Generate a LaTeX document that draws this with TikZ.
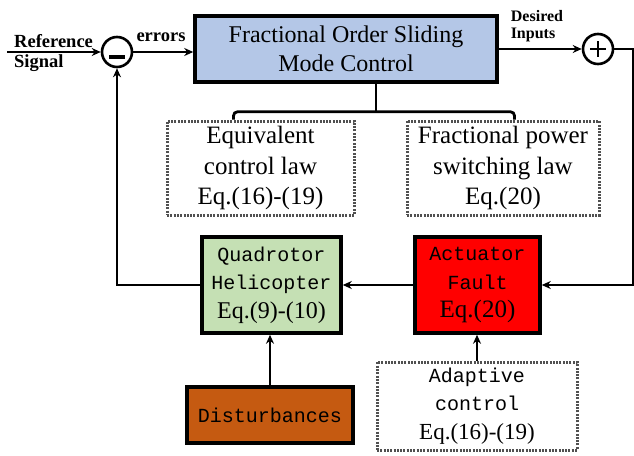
\documentclass[tikz,border=0pt]{standalone}
\usepackage{fontspec}
\setmainfont{Liberation Serif}
\newfontfamily\monof{Liberation Mono}
\usetikzlibrary{arrows.meta,calc}
\definecolor{fosblue}{RGB}{180,199,231}
\definecolor{quadgreen}{RGB}{197,224,180}
\definecolor{distorange}{RGB}{197,90,17}
\definecolor{dotgray}{RGB}{80,80,80}
\tikzset{
  blockbox/.style={draw=black,line width=3.5pt,inner sep=0pt,align=center},
  dotbox/.style={draw=dotgray,line width=3pt,dash pattern=on 2pt off 1.3pt,inner sep=0pt,align=center},
  sumnode/.style={draw=black,circle,line width=2.6pt,minimum size=30pt,inner sep=0pt},
  arr/.style={line width=2.8pt,-{Stealth[length=9pt,width=8pt]}},
  conn/.style={line width=2.8pt},
  boldlbl/.style={font=\bfseries\fontsize{18.5}{20}\selectfont,inner sep=0pt},
  smalllbl/.style={font=\bfseries\fontsize{16}{18}\selectfont,inner sep=0pt},
  plantfont/.style={font=\monof\fontsize{20}{28.5}\selectfont},
}
\newcommand{\eqtext}[2]{{\rmfamily\fontsize{#1}{28}\selectfont #2}}
\begin{document}
\begin{tikzpicture}[x=1pt,y=-1pt]
\useasboundingbox (0,0) rectangle (634,455);
% summing junctions
\node[sumnode] (sumA) at (117,52) {};
\node[sumnode] (sumB) at (598,49) {};
\draw[line width=3.2pt] ($(sumA.center)+(-8,5)$) -- ($(sumA.center)+(8,5)$);
\draw[line width=1.5pt] ($(sumB.center)+(-8,0)$) -- ($(sumB.center)+(8,0)$);
\draw[line width=1.5pt] ($(sumB.center)+(0,-8)$) -- ($(sumB.center)+(0,8)$);
% main block
\node[blockbox,fill=fosblue,minimum width=302pt,minimum height=66pt,
  font=\fontsize{24}{29}\selectfont] (fos) at (346,49) {Fractional Order Sliding\\Mode Control};
% dotted law boxes
\node[dotbox,minimum width=187pt,minimum height=94pt,
  font=\fontsize{25}{30.5}\selectfont] (eqv) at (260.5,168) {Equivalent\\control law\\Eq.(16)-(19)};
\node[dotbox,minimum width=192pt,minimum height=94pt,
  font=\fontsize{25}{30.5}\selectfont] (pow) at (503,168) {Fractional power\\switching law\\Eq.(20)};
% plant blocks
\node[blockbox,plantfont,fill=quadgreen,minimum width=139pt,minimum height=96pt] (quad) at (271.5,285)
  {Quadrotor\\Helicopter\\\eqtext{24}{Eq.(9)-(10)}};
\node[blockbox,plantfont,fill=red,minimum width=125pt,minimum height=96pt] (act) at (477.5,285)
  {Actuator\\Fault\\\eqtext{25}{Eq.(20)}};
\node[blockbox,plantfont,fill=distorange,minimum width=166pt,minimum height=56pt] (dist) at (270,415) {Disturbances};
\node[dotbox,plantfont,minimum width=200pt,minimum height=88pt] (adap) at (477,406)
  {Adaptive\\control\\\eqtext{23}{Eq.(16)-(19)}};
% labels
\node[boldlbl,anchor=west] (lref) at (14,41) {Reference};
\node[boldlbl,anchor=west] (lsig) at (14,63) {Signal};
\node[boldlbl] (lerr) at (161,37) {errors};
\node[smalllbl] (ldes) at (537,16) {Desired};
\node[smalllbl] (linp) at (533,35) {Inputs};
% connectors
\coordinate (refin) at (7,52);
\draw[arr] (refin) -- (sumA.west);
\draw[arr] (sumA.east) -- (sumA.east -| fos.west);
\draw[arr] (fos.east |- sumB.west) -- (sumB.west);
\coordinate (rtop) at (633,49);
\draw[arr] (sumB.east) -- (rtop) |- (act.east);
\draw[arr] (act.west) -- (quad.east);
\draw[arr] (quad.west) -| (sumA.south);
\draw[arr] (dist.north) -- (dist.north |- quad.south);
\draw[arr] (adap.north) -- (adap.north |- act.south);
% bracket from main block to law boxes
\coordinate (brtop) at ($(fos.south)+(30,0)$);
\coordinate (brmid) at ($(fos.south)+(30,28)$);
\coordinate (brl) at ($(eqv.north west)+(68,0)$);
\coordinate (brr) at ($(pow.north west)+(109,0)$);
\draw[conn] (brtop) -- (brmid);
\draw[conn,rounded corners=4pt] (brl) |- (brmid) -| (brr);
\end{tikzpicture}
\end{document}
